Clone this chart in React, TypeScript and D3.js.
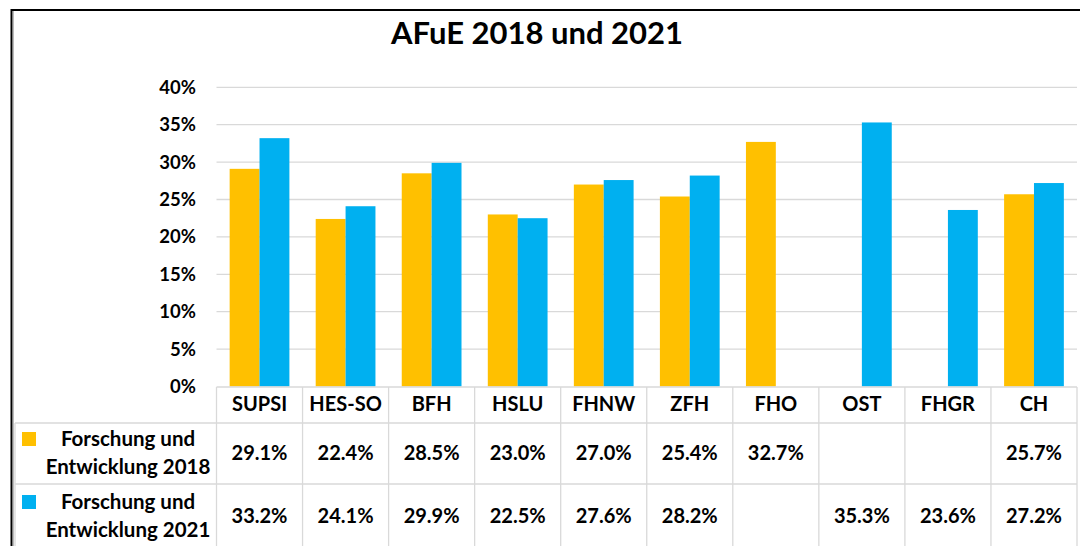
import React from "react";
import * as d3 from "d3";

const categories = ["SUPSI", "HES-SO", "BFH", "HSLU", "FHNW", "ZFH", "FHO", "OST", "FHGR", "CH"];
const values2018: (number | null)[] = [29.1, 22.4, 28.5, 23.0, 27.0, 25.4, 32.7, null, null, 25.7];
const values2021: (number | null)[] = [33.2, 24.1, 29.9, 22.5, 27.6, 28.2, null, 35.3, 23.6, 27.2];
const seriesNames = ["Forschung und|Entwicklung 2018", "Forschung und|Entwicklung 2021"];
const seriesColors = ["#FFC000", "#00B0F0"];
const yTicks = [0, 5, 10, 15, 20, 25, 30, 35, 40];
const title = "AFuE 2018 und 2021";

const W = 1080;
const H = 546;
const FONT = "Lato, 'Open Sans', sans-serif";

export default function App() {
  const x0 = 216.5;
  const x1 = 1077;
  const x = d3.scaleBand<string>().domain(categories).range([x0, x1]).paddingInner(0).paddingOuter(0);
  const xs = d3.scaleBand<string>().domain(["a", "b"]).range([0, x.bandwidth()]).paddingOuter(0.44).paddingInner(0);
  const y = d3.scaleLinear().domain([0, 40]).range([386.5, 87.3]);
  const series = [values2018, values2021];
  const rowTop = [387, 423, 484];
  const rowBottom = 560;
  const grid = "#d9d9d9";

  return (
    <svg width={W} height={H} style={{ position: "absolute", left: 0, top: 0, background: "#fff" }} fontFamily={FONT}>
      <rect x={0} y={0} width={W} height={H} fill="#fff" />
      {/* title */}
      <text x={537} y={44} textAnchor="middle" fontSize={31} fontWeight={700} fill="#000">{title}</text>
      {/* gridlines */}
      {yTicks.map((t) => (
        <g key={t}>
          {t > 0 && <line x1={x0} x2={x1} y1={y(t)} y2={y(t)} stroke={grid} strokeWidth={1.3} />}
          <text x={196} y={y(t) + 6.5} textAnchor="end" fontSize={18.5} fontWeight={700} fill="#000">{t}%</text>
        </g>
      ))}
      {/* bars */}
      {series.map((vals, si) =>
        vals.map((v, i) =>
          v == null ? null : (
            <rect key={si + "-" + i}
              x={(x(categories[i]) as number) + (xs(si === 0 ? "a" : "b") as number)}
              y={y(v)} width={xs.bandwidth()} height={y(0) - y(v)} fill={seriesColors[si]} />
          )
        )
      )}
      {/* table */}
      <g stroke={grid} strokeWidth={1.3}>
        <line x1={x0} x2={x1} y1={rowTop[0]} y2={rowTop[0]} />
        <line x1={15} x2={x1} y1={rowTop[1]} y2={rowTop[1]} />
        <line x1={15} x2={x1} y1={rowTop[2]} y2={rowTop[2]} />
        <line x1={15} x2={15} y1={rowTop[1]} y2={rowBottom} />
        {categories.map((c) => (
          <line key={c} x1={x(c)} x2={x(c)} y1={rowTop[0]} y2={rowBottom} />
        ))}
        <line x1={x1} x2={x1} y1={rowTop[0]} y2={rowBottom} />
      </g>
      {categories.map((c) => (
        <text key={c} x={(x(c) as number) + x.bandwidth() / 2} y={410.5} textAnchor="middle" fontSize={20} fontWeight={700} fill="#000">{c}</text>
      ))}
      {series.map((vals, si) => (
        <g key={si}>
          <rect x={22} y={432 + si * 63} width={14} height={14} fill={seriesColors[si]} />
          {seriesNames[si].split("|").map((ln, li) => (
            <text key={li} x={128} y={445.5 + si * 63 + li * 28} textAnchor="middle" fontSize={20.5} fontWeight={700} fill="#000">{ln}</text>
          ))}
          {vals.map((v, i) =>
            v == null ? null : (
              <text key={i} x={(x(categories[i]) as number) + x.bandwidth() / 2} y={459.5 + si * 63} textAnchor="middle" fontSize={20} fontWeight={700} fill="#000">
                {v.toFixed(1)}%
              </text>
            )
          )}
        </g>
      ))}
      {/* outer border */}
      <line x1={11.5} x2={W} y1={10} y2={10} stroke="#000" strokeWidth={2} />
      <line x1={11.5} x2={11.5} y1={9} y2={H} stroke="#000" strokeWidth={2} />
      <line x1={13.5} x2={13.5} y1={11} y2={H} stroke="#bbb" strokeWidth={1} />
    </svg>
  );
}
